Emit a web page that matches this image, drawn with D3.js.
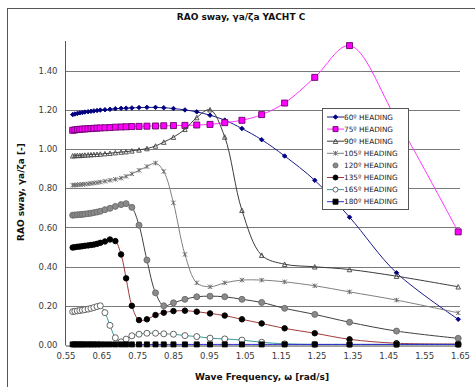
<!DOCTYPE html>
<html>
<head>
<meta charset="utf-8">
<script src="https://cdn.jsdelivr.net/npm/d3@7/dist/d3.min.js"></script>
<style>
  html, body { margin: 0; padding: 0; background: #fff; }
  svg { display: block; }
  text { font-family: "DejaVu Sans", Verdana, sans-serif; }
</style>
</head>
<body>
<svg id="chart" width="475" height="387"></svg>
<script>
// Wave frequencies (rad/s) shared by every heading
const omega = [0.570, 0.576, 0.583, 0.590, 0.597, 0.604, 0.613, 0.621, 0.629, 0.638,
               0.647, 0.660, 0.674, 0.689, 0.705, 0.719, 0.735, 0.755, 0.777, 0.801,
               0.824, 0.851, 0.883, 0.916, 0.953, 0.994, 1.042, 1.097, 1.161, 1.245,
               1.342, 1.473, 1.645];

// Sway RAO per heading
const rao60  = [1.175, 1.178, 1.181, 1.184, 1.186, 1.188, 1.190, 1.192, 1.194, 1.196,
                1.198, 1.200, 1.202, 1.205, 1.207, 1.208, 1.209, 1.211, 1.212, 1.212,
                1.210, 1.206, 1.199, 1.189, 1.172, 1.147, 1.104, 1.047, 0.964, 0.840,
                0.652, 0.368, 0.131];
const rao75  = [1.095, 1.097, 1.099, 1.100, 1.101, 1.102, 1.103, 1.104, 1.105, 1.106,
                1.107, 1.108, 1.109, 1.111, 1.112, 1.113, 1.114, 1.115, 1.116, 1.117,
                1.118, 1.119, 1.120, 1.122, 1.125, 1.134, 1.146, 1.175, 1.234, 1.365,
                1.527, 1.150, 0.577];
const rao90  = [0.965, 0.966, 0.967, 0.967, 0.968, 0.969, 0.970, 0.971, 0.972, 0.973,
                0.974, 0.976, 0.978, 0.981, 0.984, 0.986, 0.990, 0.995, 1.002, 1.015,
                1.035, 1.060, 1.100, 1.160, 1.200, 1.061, 0.687, 0.458, 0.412, 0.399,
                0.385, 0.351, 0.297];
const rao105 = [0.815, 0.816, 0.817, 0.818, 0.819, 0.820, 0.822, 0.824, 0.826, 0.828,
                0.831, 0.835, 0.840, 0.845, 0.851, 0.860, 0.873, 0.891, 0.910, 0.928,
                0.885, 0.725, 0.462, 0.317, 0.297, 0.317, 0.331, 0.331, 0.322, 0.302,
                0.271, 0.229, 0.164];
const rao120 = [0.662, 0.663, 0.664, 0.665, 0.666, 0.668, 0.670, 0.672, 0.675, 0.678,
                0.682, 0.690, 0.697, 0.707, 0.716, 0.721, 0.702, 0.611, 0.433, 0.266,
                0.200, 0.215, 0.233, 0.246, 0.249, 0.246, 0.233, 0.217, 0.187, 0.156,
                0.116, 0.071, 0.034];
const rao135 = [0.497, 0.499, 0.501, 0.502, 0.504, 0.506, 0.508, 0.510, 0.512, 0.516,
                0.521, 0.528, 0.538, 0.530, 0.462, 0.340, 0.200, 0.127, 0.131, 0.153,
                0.165, 0.173, 0.175, 0.170, 0.161, 0.150, 0.131, 0.110, 0.085, 0.060,
                0.029, 0.009, 0.005];
const rao165 = [0.170, 0.172, 0.174, 0.176, 0.178, 0.180, 0.183, 0.187, 0.191, 0.196,
                0.200, 0.165, 0.100, 0.037, 0.016, 0.030, 0.047, 0.055, 0.060, 0.060,
                0.057, 0.055, 0.048, 0.043, 0.035, 0.031, 0.025, 0.014, 0.006, 0.003,
                0.003, 0.003, 0.003];
const rao180 = [0.003, 0.003, 0.003, 0.003, 0.003, 0.003, 0.003, 0.003, 0.003, 0.003,
                0.003, 0.003, 0.003, 0.003, 0.003, 0.003, 0.003, 0.003, 0.003, 0.003,
                0.003, 0.003, 0.003, 0.003, 0.003, 0.003, 0.003, 0.003, 0.003, 0.003,
                0.003, 0.003, 0.003];

const seriesNames = ["60º HEADING", "75º HEADING", "90º HEADING", "105º HEADING",
                     "120º HEADING", "135º HEADING", "165º HEADING", "180º HEADING"];

const xTicks = [0.55, 0.65, 0.75, 0.85, 0.95, 1.05, 1.15, 1.25, 1.35, 1.45, 1.55, 1.65];
const yTicks = [0.00, 0.20, 0.40, 0.60, 0.80, 1.00, 1.20, 1.40];

// Styling per heading
const styles = [
  { line: "#1a1a8c", symbol: "diamond", size: 4.5, fill: "#000080", stroke: "#000080" },
  { line: "#ff33ff", symbol: "square",  size: 6,   fill: "#ff00ff", stroke: "#6a006a" },
  { line: "#3c3c3c", symbol: "triangle",size: 4.5, fill: "none",    stroke: "#444" },
  { line: "#808080", symbol: "star",    size: 4.5, fill: "none",    stroke: "#666" },
  { line: "#404040", symbol: "circle",  size: 6,   fill: "#8a8a8a", stroke: "#6a6a6a", noLegendLine: true },
  { line: "#a03a3a", symbol: "circle",  size: 5.5, fill: "#000",    stroke: "#000" },
  { line: "#3a9a9a", symbol: "circle",  size: 6,   fill: "#fff",    stroke: "#555" },
  { line: "#2a2acc", symbol: "square",  size: 5,   fill: "#000",    stroke: "#000" }
];
const values = [rao60, rao75, rao90, rao105, rao120, rao135, rao165, rao180];

const svg = d3.select("#chart");

// outer chart frame
svg.append("rect")
  .attr("x", 7.5).attr("y", 8.5).attr("width", 480).attr("height", 400)
  .attr("fill", "#fff").attr("stroke", "#555").attr("stroke-width", 1);

const x = d3.scaleLinear().domain([0.55, 1.65]).range([65.5, 460]);
const y = d3.scaleLinear().domain([0, 1.4]).range([345, 70.5]);

// horizontal gridlines
svg.append("g")
  .selectAll("line")
  .data(yTicks.filter(v => v > 0))
  .join("line")
  .attr("x1", x(0.55)).attr("x2", x(1.65))
  .attr("y1", d => Math.round(y(d)) + 0.5).attr("y2", d => Math.round(y(d)) + 0.5)
  .attr("stroke", "#7a7a7a").attr("stroke-width", 1);

// y axis
const yAxis = d3.axisLeft(y).tickValues(yTicks).tickFormat(d3.format(".2f")).tickSize(0).tickPadding(8);
const gy = svg.append("g").attr("transform", "translate(65.5,0)").call(yAxis);
gy.select(".domain").remove();
gy.selectAll("text").attr("font-size", 8.5).attr("fill", "#3a3a3a")
  .attr("font-family", "DejaVu Sans, Verdana, sans-serif");
svg.append("line")
  .attr("x1", 65.5).attr("x2", 65.5).attr("y1", 41).attr("y2", 345.5)
  .attr("stroke", "#555").attr("stroke-width", 1);

// x axis
const xAxis = d3.axisBottom(x).tickValues(xTicks).tickFormat(d3.format(".2f")).tickSize(0).tickPadding(7);
const gx = svg.append("g").attr("transform", "translate(0,345.5)").call(xAxis);
gx.select(".domain").attr("stroke", "#444");
gx.selectAll("text").attr("font-size", 8.5).attr("fill", "#3a3a3a")
  .attr("font-family", "DejaVu Sans, Verdana, sans-serif");

// marker shapes
function markerPath(kind, s) {
  const h = s / 2;
  if (kind === "star") {
    return `M${-h},${-h}L${h},${h}M${-h},${h}L${h},${-h}M0,${-h}L0,${h}`;
  }
  if (kind === "square") {
    return `M${-h},${-h}H${h}V${h}H${-h}Z`;
  }
  if (kind === "diamond") {
    return `M0,${-h}L${h},0L0,${h}L${-h},0Z`;
  }
  if (kind === "triangle") {
    return `M0,${-h}L${h},${h}L${-h},${h}Z`;
  }
  return d3.symbol(d3.symbolCircle, Math.PI * h * h)();
}

const line = d3.line()
  .x(d => x(d[0])).y(d => y(d[1]))
  .curve(d3.curveCatmullRom.alpha(0.5));

const plot = svg.append("g");
values.forEach((vals, i) => {
  const st = styles[i];
  const pts = omega.map((w, k) => [w, vals[k]]);
  const g = plot.append("g");
  g.append("path").datum(pts)
    .attr("d", line).attr("fill", "none")
    .attr("stroke", st.line).attr("stroke-width", 1);
  g.selectAll("path.m").data(pts).join("path")
    .attr("class", "m")
    .attr("transform", d => `translate(${x(d[0])},${y(d[1])})`)
    .attr("d", markerPath(st.symbol, st.size))
    .attr("fill", st.fill).attr("stroke", st.stroke).attr("stroke-width", 0.9);
});

// legend
const lg = svg.append("g");
lg.append("rect")
  .attr("x", 322.5).attr("y", 108.5).attr("width", 86).attr("height", 101)
  .attr("fill", "#fff").attr("stroke", "#555").attr("stroke-width", 1);
seriesNames.forEach((name, i) => {
  const st = styles[i];
  const cy = 117 + i * 12.1;
  if (!st.noLegendLine) {
    lg.append("line").attr("x1", 327).attr("x2", 344).attr("y1", cy).attr("y2", cy)
      .attr("stroke", st.line).attr("stroke-width", 1);
  }
  lg.append("path")
    .attr("transform", `translate(335.5,${cy})`)
    .attr("d", markerPath(st.symbol, Math.min(st.size, 5)))
    .attr("fill", st.fill).attr("stroke", st.stroke).attr("stroke-width", 0.9);
  lg.append("text").attr("x", 344).attr("y", cy).attr("dy", "0.35em")
    .attr("font-size", 7.3).attr("fill", "#222").text(name);
});

// titles
svg.append("text").attr("x", 241).attr("y", 20).attr("text-anchor", "middle")
  .attr("font-size", 9).attr("font-weight", "bold").attr("fill", "#111")
  .text("RAO sway, γa/ζa YACHT C");
svg.append("text").attr("x", 262).attr("y", 380).attr("text-anchor", "middle")
  .attr("font-size", 9).attr("font-weight", "bold").attr("fill", "#111")
  .text("Wave Frequency, ω [rad/s]");
svg.append("text")
  .attr("transform", "translate(24,192) rotate(-90)")
  .attr("text-anchor", "middle")
  .attr("font-size", 9).attr("font-weight", "bold").attr("fill", "#111")
  .text("RAO sway, γa/ζa [-]");
</script>
</body>
</html>
